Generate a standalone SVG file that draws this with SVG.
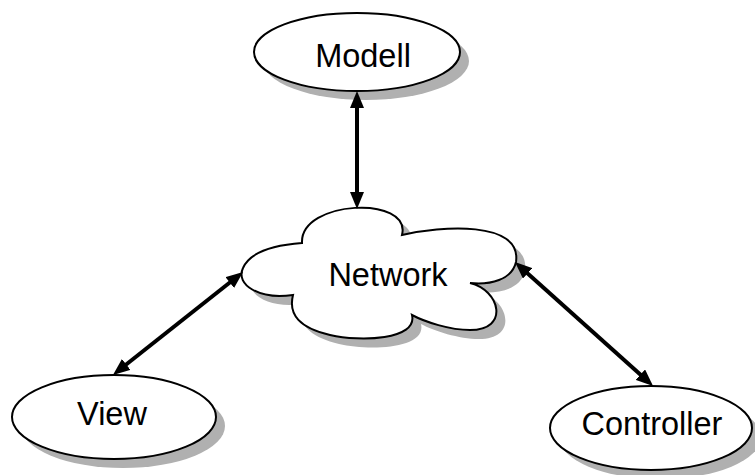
<svg xmlns="http://www.w3.org/2000/svg" width="755" height="475" viewBox="0 0 755 475">
  <style>
    .shadow { fill: #b0b0b0; stroke: none; }
    .shape { fill: #ffffff; stroke: #000000; stroke-width: 2; }
    .label { font-family: "Liberation Sans", Arial, sans-serif; font-size: 32.5px; fill: #000000; text-anchor: middle; }
    .link { stroke: #000000; stroke-width: 4; fill: none; marker-start: url(#head); marker-end: url(#head); }
  </style>
  <defs>
    <marker id="head" viewBox="0 0 17 14" refX="7" refY="7" markerWidth="17" markerHeight="14" markerUnits="userSpaceOnUse" orient="auto-start-reverse">
      <path d="M0,0 L17,7 L0,14 Z" fill="#000000"/>
    </marker>
    <path id="cloudShape" d="M302,243 C300,200 412,195 402,235 C440,226 522,220 516,262 C512,280 490,285 470,283 C500,290 510,330 470,330 C450,330 425,322 412,315 C418,340 360,342 330,335 C300,328 288,315 293,295 C260,300 235,285 243,268 C250,252 275,245 302,243 Z"/>
  </defs>

  <rect x="0" y="0" width="755" height="475" fill="#ffffff"/>

  <g id="modell">
    <ellipse class="shadow" cx="366" cy="61" rx="103" ry="39"/>
    <ellipse class="shape" cx="357" cy="52" rx="103" ry="39"/>
    <text class="label" x="363" y="67">Modell</text>
  </g>

  <g id="network">
    <use href="#cloudShape" class="shadow" transform="translate(9,9)"/>
    <use href="#cloudShape" class="shape"/>
    <text class="label" x="388" y="286">Network</text>
  </g>

  <g id="view">
    <ellipse class="shadow" cx="123" cy="426" rx="102" ry="42"/>
    <ellipse class="shape" cx="114" cy="417" rx="102" ry="42"/>
    <text class="label" x="112" y="425">View</text>
  </g>

  <g id="controller">
    <ellipse class="shadow" cx="660" cy="437" rx="101" ry="42"/>
    <ellipse class="shape" cx="651" cy="428" rx="101" ry="42"/>
    <text class="label" x="652" y="435">Controller</text>
  </g>

  <g id="connectors">
    <line class="link" x1="357" y1="101" x2="357" y2="199"/>
    <line class="link" x1="120.8" y1="368.8" x2="235.2" y2="278.2"/>
    <line class="link" x1="522.4" y1="268.7" x2="645.6" y2="379.3"/>
  </g>
</svg>
